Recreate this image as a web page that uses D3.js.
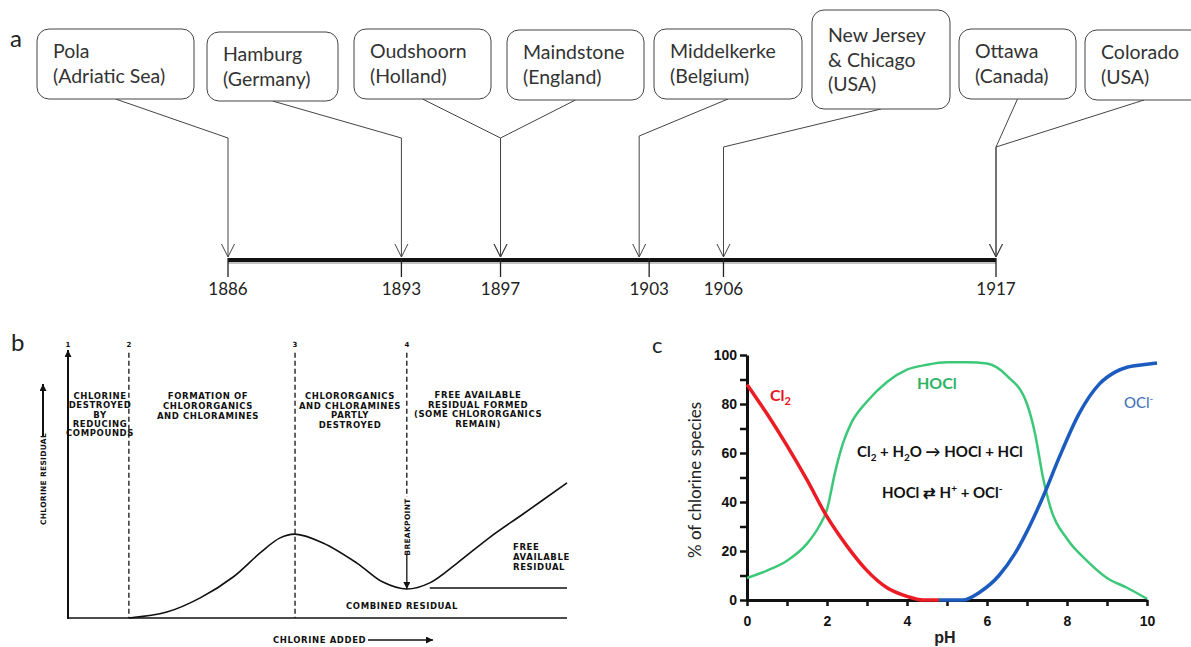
<!DOCTYPE html>
<html lang="en">
<head>
<meta charset="utf-8">
<title>Chlorination: early sites, breakpoint curve and chlorine species</title>
<script src="https://d3js.org/d3.v7.min.js"></script>
<style>
    body { margin: 0; background: #fff; }
    svg { display: block; }
    .panelLetter { font-family: Lato, 'Open Sans', sans-serif; font-size: 24px; fill: #222; }
    .boxText { font-family: Lato, 'Open Sans', sans-serif; font-size: 19.5px; fill: #333; }
    .year { font-family: Lato, 'Open Sans', sans-serif; font-size: 17px; fill: #222; text-anchor: middle; }
    .scan { font-family: 'DejaVu Sans', sans-serif; font-weight: bold; font-size: 8.5px; letter-spacing: 0.6px; fill: #111; }
    .axisC path, .axisC line { stroke: #111; }
    .axisC text { font-family: 'Liberation Sans', Arial, sans-serif; font-weight: bold; font-size: 14px; fill: #111; }
    .eq { font-family: Lato, 'Open Sans', sans-serif; font-weight: bold; font-size: 15px; fill: #111; }
</style>
</head>
<body>
<script>
    // ---- panel a data ----
    let placeLines = [
        ["Pola", "(Adriatic Sea)"],
        ["Hamburg", "(Germany)"],
        ["Oudshoorn", "(Holland)"],
        ["Maindstone", "(England)"],
        ["Middelkerke", "(Belgium)"],
        ["New Jersey", "& Chicago", "(USA)"],
        ["Ottawa", "(Canada)"],
        ["Colorado", "(USA)"]
    ];
    let placeYears = [1886, 1893, 1897, 1897, 1903, 1906, 1917, 1917];
    let tickYears = [1886, 1893, 1897, 1903, 1906, 1917];

    // ---- panel b data (chlorine added vs residual, arbitrary units) ----
    let chlorineAdded = [0, 12.2, 19.8, 26.5, 33.1, 38.5, 42.5, 45.5, 51.1, 57.9, 63.1, 67.9, 72.5, 78.0, 84.6, 91.2, 100];
    let residual      = [0, 0, 2.2, 7.5, 15.3, 24.3, 29.9, 31.3, 28.0, 20.5, 13.4, 10.8, 13.1, 20.5, 30.2, 38.8, 50.4];
    let zonePoints = [0, 12.2, 45.5, 67.9];
    let zoneNames = ["1", "2", "3", "4"];

    // ---- panel c data (% of species vs pH) ----
    let phCl2 = [0, 0.5, 1, 1.5, 2, 2.5, 3, 3.5, 4, 4.4, 4.8];
    let pctCl2 = [88, 76, 63, 49, 34, 22, 12, 5, 1.5, 0, 0];
    let phHOCl = [0, 0.5, 1, 1.5, 1.8, 2, 2.2, 2.4, 2.6, 3, 3.5, 4, 4.5, 5, 5.5, 6, 6.5, 7, 7.2, 7.4, 7.6, 8, 8.5, 9, 9.5, 10];
    let pctHOCl = [9, 12, 16, 23, 30, 37, 52, 64, 72, 81, 89, 94, 96, 97, 97, 96.5, 91.5, 80, 68, 50, 37, 25, 16, 9, 5, 0.5];
    let phOCl = [4.8, 5.4, 5.8, 6.3, 6.7, 7, 7.45, 7.8, 8.3, 8.8, 9.2, 9.5, 10, 10.25];
    let pctOCl = [0, 0, 3, 10, 19, 28, 44, 58, 76, 88, 93, 95, 96.2, 96.7];

    // layout of the callout boxes in panel a (x, y, w, h, elbow height, arrow shift)
    let boxLayout = [
        {x: 37, y: 29, w: 157, h: 70, elbow: 138, shift: 0},
        {x: 207, y: 32, w: 131, h: 69, elbow: 138, shift: 0},
        {x: 354, y: 29, w: 137, h: 70, elbow: 138, shift: 0},
        {x: 507, y: 30, w: 137, h: 70, elbow: 138, shift: 0},
        {x: 654, y: 29, w: 148, h: 70, elbow: 136, shift: -10},
        {x: 812, y: 10, w: 138, h: 99, elbow: 147, shift: 0},
        {x: 959, y: 29, w: 117, h: 70, elbow: 147, shift: 0},
        {x: 1085, y: 30, w: 118, h: 70, elbow: 147, shift: 0}
    ];

    let svg = d3.select("body").append("svg")
        .attr("width", 1191)
        .attr("height", 647);

    let defs = svg.append("defs");
    defs.append("marker")
        .attr("id", "solidArrow")
        .attr("viewBox", "0 0 10 10")
        .attr("refX", 10).attr("refY", 5)
        .attr("markerUnits", "userSpaceOnUse")
        .attr("markerWidth", 9).attr("markerHeight", 7)
        .attr("orient", "auto")
        .append("path").attr("d", "M0,0 L10,5 L0,10 z").attr("fill", "#111");

    /* ================= panel a : timeline ================= */
    let yearScale = d3.scaleLinear().domain([1886, 1917]).range([228, 996]);
    let lineY = 258;

    svg.append("text").attr("class", "panelLetter").attr("x", 10).attr("y", 47).text("a");

    let pa = svg.append("g");

    // connectors first so boxes sit on top
    pa.selectAll("path.conn")
        .data(placeYears)
        .enter().append("path")
        .attr("class", "conn")
        .attr("fill", "none")
        .attr("stroke", "#444")
        .attr("stroke-width", 1)
        .attr("d", function(d, i) {
            let b = boxLayout[i];
            let ax = yearScale(d) + b.shift;
            return "M" + (b.x + b.w / 2) + "," + (b.y + b.h) + " L" + ax + "," + b.elbow + " L" + ax + "," + (lineY - 1);
        });

    pa.selectAll("path.head")
        .data(placeYears)
        .enter().append("path")
        .attr("class", "head")
        .attr("fill", "none")
        .attr("stroke", "#444")
        .attr("stroke-width", 1)
        .attr("d", function(d, i) {
            let ax = yearScale(d) + boxLayout[i].shift;
            return "M" + (ax - 6.5) + "," + (lineY - 14) + " L" + ax + "," + (lineY - 1) + " L" + (ax + 6.5) + "," + (lineY - 14);
        });

    let boxes = pa.selectAll("g.box")
        .data(placeLines)
        .enter().append("g")
        .attr("class", "box");

    boxes.append("rect")
        .attr("x", function(d, i) { return boxLayout[i].x; })
        .attr("y", function(d, i) { return boxLayout[i].y; })
        .attr("width", function(d, i) { return boxLayout[i].w; })
        .attr("height", function(d, i) { return boxLayout[i].h; })
        .attr("rx", 12).attr("ry", 12)
        .attr("fill", "#fff")
        .attr("stroke", "#444")
        .attr("stroke-width", 1);

    boxes.each(function(d, i) {
        let b = boxLayout[i];
        let first = b.h > 90 ? 32 : 29;
        d3.select(this).selectAll("text")
            .data(d)
            .enter().append("text")
            .attr("class", "boxText")
            .attr("x", b.x + 16)
            .attr("y", function(t, j) { return b.y + first + j * 24.5; })
            .text(function(t) { return t; });
    });

    // thick time bar with a soft shadow
    pa.append("rect")
        .attr("x", yearScale(1886)).attr("y", lineY + 3)
        .attr("width", yearScale(1917) - yearScale(1886)).attr("height", 3)
        .attr("fill", "#999").attr("opacity", 0.6);
    pa.append("rect")
        .attr("x", yearScale(1886)).attr("y", lineY)
        .attr("width", yearScale(1917) - yearScale(1886)).attr("height", 4)
        .attr("fill", "#111");

    pa.selectAll("line.tick")
        .data(tickYears)
        .enter().append("line")
        .attr("x1", function(d) { return yearScale(d); })
        .attr("x2", function(d) { return yearScale(d); })
        .attr("y1", lineY).attr("y2", lineY + 19)
        .attr("stroke", "#222").attr("stroke-width", 1.3);

    pa.selectAll("text.year")
        .data(tickYears)
        .enter().append("text")
        .attr("class", "year")
        .attr("x", function(d) { return yearScale(d); })
        .attr("y", 295)
        .text(function(d) { return d; });

    /* ================= panel b : breakpoint curve ================= */
    let xB = d3.scaleLinear().domain([0, 100]).range([68, 567]);
    let yB = d3.scaleLinear().domain([0, 100]).range([618, 350]);
    let pb = svg.append("g");

    svg.append("text").attr("class", "panelLetter").attr("x", 11).attr("y", 351).text("b");

    // axes
    pb.append("line")
        .attr("x1", xB(0)).attr("x2", xB(0))
        .attr("y1", yB(0) + 1).attr("y2", yB(100))
        .attr("stroke", "#111").attr("stroke-width", 2)
        .attr("marker-end", "url(#solidArrow)");
    pb.append("line")
        .attr("x1", xB(0)).attr("x2", xB(100))
        .attr("y1", yB(0)).attr("y2", yB(0))
        .attr("stroke", "#111").attr("stroke-width", 1.5);

    // zone boundaries
    pb.selectAll("line.zone")
        .data(zonePoints.slice(1))
        .enter().append("line")
        .attr("x1", function(d) { return xB(d); })
        .attr("x2", function(d) { return xB(d); })
        .attr("y1", yB(99))
        .attr("y2", function(d, i) { return i === 2 ? 497 : yB(0); })
        .attr("stroke", "#111").attr("stroke-width", 1.3)
        .attr("stroke-dasharray", "5,3");

    pb.selectAll("text.zone")
        .data(zoneNames)
        .enter().append("text")
        .attr("class", "scan")
        .attr("x", function(d, i) { return xB(zonePoints[i]); })
        .attr("y", 347)
        .attr("text-anchor", "middle")
        .style("font-size", "7px")
        .style("letter-spacing", "0px")
        .text(function(d) { return d; });

    let curveB = d3.line()
        .x(function(d) { return xB(d[0]); })
        .y(function(d) { return yB(d[1]); })
        .curve(d3.curveCatmullRom.alpha(0.5));

    // flat part before point 2 lies on the baseline; the smooth curve starts at point 2
    pb.append("path")
        .attr("d", curveB(d3.zip(chlorineAdded, residual).slice(1)))
        .attr("fill", "none").attr("stroke", "#111").attr("stroke-width", 1.6);

    // combined residual level
    pb.append("line")
        .attr("x1", xB(72.5)).attr("x2", xB(100))
        .attr("y1", yB(11.2)).attr("y2", yB(11.2))
        .attr("stroke", "#111").attr("stroke-width", 1.3);

    // breakpoint arrow
    pb.append("line")
        .attr("x1", xB(67.9)).attr("x2", xB(67.9))
        .attr("y1", 555).attr("y2", yB(10.8))
        .attr("stroke", "#111").attr("stroke-width", 1.3)
        .attr("marker-end", "url(#solidArrow)");
    pb.append("text")
        .attr("class", "scan")
        .attr("transform", "translate(" + (xB(67.9) + 3) + ",527) rotate(-90)")
        .attr("text-anchor", "middle")
        .style("font-size", "7.5px")
        .style("letter-spacing", "0.3px")
        .text("BREAKPOINT");

    let blocks = [
        {x: 100, y: 399, lines: ["CHLORINE", "DESTROYED", "BY", "REDUCING", "COMPOUNDS"], anchor: "middle", step: 9.3},
        {x: 208, y: 399, lines: ["FORMATION OF", "CHLORORGANICS", "AND CHLORAMINES"], anchor: "middle", step: 10},
        {x: 350, y: 399, lines: ["CHLORORGANICS", "AND CHLORAMINES", "PARTLY", "DESTROYED"], anchor: "middle", step: 9.7},
        {x: 478, y: 398, lines: ["FREE AVAILABLE", "RESIDUAL FORMED", "(SOME CHLORORGANICS", "REMAIN)"], anchor: "middle", step: 9.5},
        {x: 513, y: 550, lines: ["FREE", "AVAILABLE", "RESIDUAL"], anchor: "start", step: 10},
        {x: 402, y: 609, lines: ["COMBINED RESIDUAL"], anchor: "middle", step: 10}
    ];
    blocks.forEach(function(b) {
        pb.selectAll(null)
            .data(b.lines)
            .enter().append("text")
            .attr("class", "scan")
            .attr("x", b.x)
            .attr("y", function(t, j) { return b.y + j * b.step; })
            .attr("text-anchor", b.anchor)
            .text(function(t) { return t; });
    });

    // axis titles of the scanned figure
    pb.append("text")
        .attr("class", "scan")
        .attr("transform", "translate(46,479) rotate(-90)")
        .attr("text-anchor", "middle")
        .style("font-size", "7.5px")
        .style("letter-spacing", "0.3px")
        .text("CHLORINE RESIDUAL");
    pb.append("line")
        .attr("x1", 43).attr("x2", 43).attr("y1", 437).attr("y2", 384)
        .attr("stroke", "#111").attr("stroke-width", 2)
        .attr("marker-end", "url(#solidArrow)");
    pb.append("text")
        .attr("class", "scan")
        .attr("x", 273).attr("y", 643)
        .text("CHLORINE ADDED");
    pb.append("line")
        .attr("x1", 368).attr("x2", 433).attr("y1", 640).attr("y2", 640)
        .attr("stroke", "#111").attr("stroke-width", 1.3)
        .attr("marker-end", "url(#solidArrow)");

    /* ================= panel c : chlorine species vs pH ================= */
    let xC = d3.scaleLinear().domain([0, 10]).range([747, 1147]);
    let yC = d3.scaleLinear().domain([0, 100]).range([600, 355]);
    let pc = svg.append("g");

    svg.append("text").attr("class", "panelLetter").attr("x", 652).attr("y", 353).style("font-size", "22px").text("c");

    let yAxis = d3.axisLeft(yC)
        .tickValues(d3.range(0, 101, 10))
        .tickSize(7).tickSizeOuter(0).tickPadding(3)
        .tickFormat(function(d) { return d % 20 === 0 ? d : ""; });
    let xAxis = d3.axisBottom(xC)
        .tickValues(d3.range(0, 11, 1))
        .tickSize(6).tickSizeOuter(0).tickPadding(10)
        .tickFormat(function(d) { return d % 2 === 0 ? d : ""; });

    pc.append("g").attr("class", "axisC").attr("transform", "translate(" + xC(0) + ",0)").call(yAxis);
    pc.append("g").attr("class", "axisC").attr("transform", "translate(0," + yC(0) + ")").call(xAxis);
    pc.selectAll(".axisC .domain").attr("stroke-width", 3);
    pc.selectAll(".axisC .tick line").attr("stroke-width", 2.5);

    pc.append("text")
        .attr("transform", "translate(701,480) rotate(-90)")
        .attr("text-anchor", "middle")
        .style("font-family", "Lato, 'Open Sans', sans-serif")
        .style("font-size", "17px")
        .style("fill", "#222")
        .text("% of chlorine species");
    pc.append("text")
        .attr("x", 945).attr("y", 643)
        .attr("text-anchor", "middle")
        .style("font-family", "'Liberation Sans', Arial, sans-serif")
        .style("font-weight", "bold")
        .style("font-size", "16px")
        .style("fill", "#222")
        .text("pH");

    let lineC = d3.line()
        .x(function(d) { return xC(d[0]); })
        .y(function(d) { return yC(d[1]); })
        .curve(d3.curveMonotoneX);

    pc.append("path")
        .attr("d", lineC(d3.zip(phHOCl, pctHOCl)))
        .attr("fill", "none").attr("stroke", "#3cc878").attr("stroke-width", 2.5);
    pc.append("path")
        .attr("d", lineC(d3.zip(phOCl, pctOCl)))
        .attr("fill", "none").attr("stroke", "#1c5cbf").attr("stroke-width", 3.5);
    pc.append("path")
        .attr("d", lineC(d3.zip(phCl2, pctCl2)))
        .attr("fill", "none").attr("stroke", "#ec1c24").attr("stroke-width", 3.5);

    // series labels
    let cl2Label = pc.append("text")
        .attr("x", 770).attr("y", 401)
        .style("font-family", "Lato, 'Open Sans', sans-serif")
        .style("font-weight", "bold").style("font-size", "16px")
        .style("fill", "#e8141c");
    cl2Label.append("tspan").text("Cl");
    cl2Label.append("tspan").attr("dy", 4).style("font-size", "11px").text("2");

    pc.append("text")
        .attr("x", 917).attr("y", 389)
        .style("font-family", "Lato, 'Open Sans', sans-serif")
        .style("font-weight", "bold").style("font-size", "16px")
        .style("fill", "#2eb366")
        .text("HOCl");

    let oclLabel = pc.append("text")
        .attr("x", 1124).attr("y", 408)
        .style("font-family", "Lato, 'Open Sans', sans-serif")
        .style("font-size", "15px")
        .style("fill", "#3a6bb5");
    oclLabel.append("tspan").text("OCl");
    oclLabel.append("tspan").attr("dy", -6).style("font-size", "10px").text("-");

    // equations
    let eq1 = pc.append("text").attr("class", "eq").attr("x", 857).attr("y", 457);
    eq1.append("tspan").text("Cl");
    eq1.append("tspan").attr("dy", 4).style("font-size", "10px").text("2");
    eq1.append("tspan").attr("dy", -4).text(" + H");
    eq1.append("tspan").attr("dy", 4).style("font-size", "10px").text("2");
    eq1.append("tspan").attr("dy", -4).text("O \u2192 HOCl + HCl");

    let eq2 = pc.append("text").attr("class", "eq").attr("x", 882).attr("y", 498);
    eq2.append("tspan").text("HOCl \u21c4 H");
    eq2.append("tspan").attr("dy", -6).style("font-size", "10px").text("+");
    eq2.append("tspan").attr("dy", 6).text(" + OCl");
    eq2.append("tspan").attr("dy", -6).style("font-size", "10px").text("-");
</script>
</body>
</html>
